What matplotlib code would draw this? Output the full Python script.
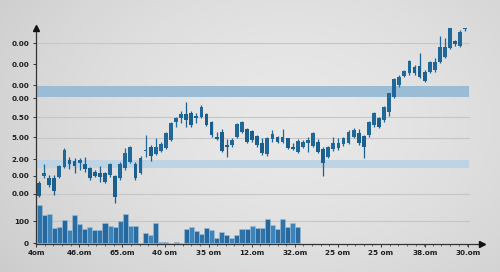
import numpy as np
import matplotlib
matplotlib.use("Agg")
import matplotlib.pyplot as plt

# ---------------- data ----------------
opens  = [60, 67, 65, 65, 66, 76, 83, 82, 80, 79, 75, 71, 70, 70, 68, 67, 65, 75, 81, 79,
          70, 92, 96, 89, 92, 95, 103, 121, 125, 129, 130, 125, 126, 129, 121, 106, 111, 98, 98, 106,
          111, 114, 112, 107, 100, 89, 104, 106, 101, 105, 96, 91, 96, 100, 97, 101, 94, 86, 94, 95,
          99, 100, 106, 110, 107, 108, 118, 125, 123, 131, 146, 158, 167, 170, 176, 177, 171, 171, 173, 181,
          186, 195, 202, 197, 214, 220]
highs  = [62, 79, 68, 68, 78, 95, 86, 85, 85, 86, 76, 73, 77, 71, 80, 68, 81, 95, 97, 81,
          87, 108, 98, 105, 101, 111, 121, 126, 132, 141, 132, 130, 138, 130, 122, 111, 114, 104, 105, 120,
          122, 115, 113, 108, 105, 106, 113, 107, 114, 105, 100, 104, 103, 106, 111, 104, 96, 97, 106, 105,
          106, 113, 115, 114, 108, 122, 131, 126, 137, 150, 165, 168, 173, 183, 178, 190, 173, 182, 185, 207,
          205, 219, 203, 213, 227, 223]
lows   = [46, 65, 56, 48, 65, 75, 74, 70, 73, 71, 63, 66, 61, 60, 66, 40, 63, 73, 80, 63,
          69, 86, 82, 88, 91, 94, 102, 116, 120, 116, 116, 120, 125, 117, 106, 103, 91, 86, 96, 105,
          110, 100, 101, 96, 88, 87, 101, 100, 100, 94, 93, 90, 95, 91, 96, 90, 67, 85, 92, 93,
          97, 99, 105, 98, 85, 106, 116, 115, 121, 127, 145, 156, 166, 168, 168, 165, 161, 170, 171, 180,
          185, 194, 197, 196, 212, 217]
closes = [47, 70, 58, 52, 77, 93, 79, 77, 83, 74, 65, 67, 66, 61, 79, 46, 79, 90, 96, 65,
          85, 93, 87, 96, 99, 110, 120, 125, 129, 123, 118, 127, 136, 118, 108, 104.5, 92, 96, 103, 119,
          121, 101, 103, 98, 90, 105, 109, 101, 106, 95, 94, 102, 101, 103, 110, 91, 80, 96, 100, 100,
          105, 111, 113, 100, 96, 121, 130, 116, 136, 150, 164, 166, 172, 182, 170, 166, 162, 181, 181, 196,
          196, 216, 199, 211, 225, 218.5]

volumes = [38, 28, 29, 15, 16, 23, 13, 28, 19, 14, 16, 13, 13, 20, 17, 16, 22, 29, 17, 17,
           0.4, 10, 8, 20, 1, 1, 0.5, 1, 0.5, 14, 16, 12, 9, 15, 13, 5, 11, 8, 5, 8,
           14, 14, 17, 15, 15, 24, 18, 14, 24, 16, 20, 16]

y_tick_values = [200, 179, 158, 145, 126, 106, 84, 67, 49, 22, 0]
y_tick_labels = ["0.00", "0.00", "0.00", "0.00", "0.50", "5.00", "2.00", "0.00", "0.00", "100", "0"]
grid_values = [200, 126, 105, 49, 22]

x_tick_positions = [-0.6, 7.9, 16.4, 24.8, 33.5, 42.0, 50.5, 58.9, 67.4, 76.1, 84.5]
x_tick_labels = ["4om", "46.om", "65.om", "40 om", "35 om", "12.om", "32.om", "25 om", "25 om", "38.om", "30.om"]

band_dark = (146, 157)
band_light = (75, 83)

# ---------------- figure ----------------
W, H, DPI = 500, 272, 100
fig = plt.figure(figsize=(W / DPI, H / DPI), dpi=DPI)

# gradient gray background
bg = fig.add_axes([0, 0, 1, 1], zorder=-10)
yy, xx = np.mgrid[0:H, 0:W]
d = np.sqrt(((xx - 290) / 340.0) ** 2 + ((yy - 120) / 240.0) ** 2)
val = 0.91 - 0.10 * np.clip(d, 0, 1.3) ** 1.6
img = np.dstack([val, val, val])
bg.imshow(img, aspect="auto", extent=[0, 1, 0, 1], origin="upper")
bg.axis("off")

left_px, right_px, top_px, bottom_px = 36, 482, 28, 243.5
ax = fig.add_axes([left_px / W, (H - bottom_px) / H, (right_px - left_px) / W, (bottom_px - top_px) / H])
ax.patch.set_alpha(0)
ax.set_xlim(-0.59, 87.3)
ax.set_ylim(-0.5, 215)

frac_end = (469 - left_px) / (right_px - left_px)

# bands
ax.axhspan(*band_dark, xmin=0, xmax=frac_end, color="#9abdd5", lw=0, zorder=1)
ax.axhspan(*band_light, xmin=0, xmax=frac_end, color="#bed3e3", lw=0, zorder=1)

# gridlines
for g in grid_values:
    ax.axhline(g, xmin=0, xmax=frac_end, color="#c6c6c6", lw=0.8, zorder=0.5)

# candles
n = len(opens)
x = np.arange(n)
o = np.array(opens, float); c = np.array(closes, float)
hi = np.array(highs, float); lo = np.array(lows, float)
body_lo = np.minimum(o, c)
body_h = np.maximum(np.abs(c - o), 1.2)
cols = ["#1f6899" if cc >= oo else "#1b5f8e" for oo, cc in zip(o, c)]
ax.vlines(x, lo, hi, colors=cols, lw=0.9, zorder=3)
ax.bar(x, body_h, bottom=body_lo, width=0.74, color=cols, lw=0, zorder=4)

# volume bars
vx = np.arange(len(volumes))
vcols = ["#2f73a8", "#2568a0", "#3d84bb", "#2a6ca2"]
ax.bar(vx, volumes, width=1.0, bottom=0, color=[vcols[i % 4] for i in vx],
       edgecolor="#9ec0da", lw=0.4, zorder=2)

# axes styling
for s in ["top", "right"]:
    ax.spines[s].set_visible(False)
ax.spines["left"].set_color("#333333")
ax.spines["bottom"].set_color("#333333")
ax.spines["left"].set_linewidth(0.9)
ax.spines["bottom"].set_linewidth(0.9)

ax.set_yticks(y_tick_values)
ax.set_yticklabels(y_tick_labels)
ax.set_xticks(x_tick_positions)
ax.set_xticklabels(x_tick_labels)
ax.set_xticks(np.arange(-0.6, 86, 8.5 / 5), minor=True)
ax.tick_params(axis="both", which="major", labelsize=5.2, length=2.5, width=0.7,
               colors="#333333", labelcolor="#1e1e1e", pad=2.5)
ax.tick_params(axis="x", which="minor", length=1.5, width=0.6, colors="#555555")
for lab in ax.get_xticklabels() + ax.get_yticklabels():
    lab.set_fontweight("bold")

# arrows
ax.plot([1], [0], marker=">", color="#111111", ms=4, transform=ax.transAxes, clip_on=False, zorder=6)
ax.plot([0], [1], marker="^", color="#111111", ms=4, transform=ax.transAxes, clip_on=False, zorder=6)

fig.savefig("out.png", dpi=DPI)
